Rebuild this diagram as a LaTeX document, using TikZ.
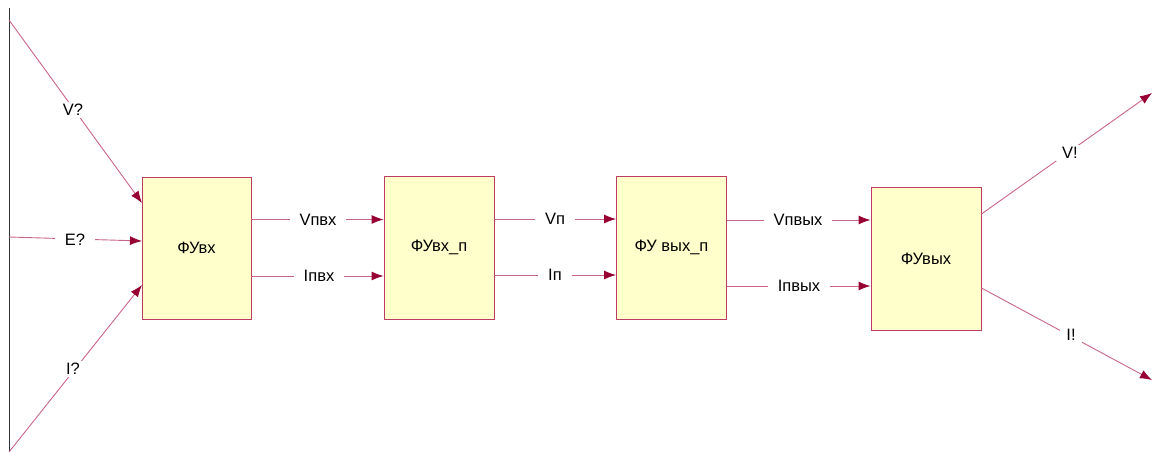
\documentclass[tikz,border=0pt]{standalone}
\usepackage{fontspec}
\setmainfont{Liberation Sans}
\usetikzlibrary{arrows.meta}
\definecolor{linec}{RGB}{200,100,140}
\definecolor{arrc}{RGB}{150,0,50}
\definecolor{boxfill}{RGB}{255,255,204}
\definecolor{boxline}{RGB}{190,60,100}
\tikzset{
  blk/.style={draw=boxline, fill=boxfill, line width=0.9pt, inner sep=0pt, font=\fontsize{16.5}{19}\selectfont},
  conn/.style={draw=linec, line width=0.9pt, -{Latex[length=12pt,width=9pt,color=arrc]}},
  lbl/.style={fill=white, inner xsep=10pt, inner ysep=2pt, font=\fontsize{16.5}{19}\selectfont}
}
\begin{document}
\begin{tikzpicture}[x=1pt,y=-1pt]
\useasboundingbox (0,0) rectangle (1152,452);
% boxes
\node[blk, minimum width=109pt, minimum height=142pt] (b1) at (196.5,248) {ФУвх};
\node[blk, minimum width=110pt, minimum height=143pt] (b2) at (439,247.5) {ФУвх\_п};
\node[blk, minimum width=110pt, minimum height=143pt] (b3) at (671.5,247.5) {ФУ вых\_п};
\node[blk, minimum width=110pt, minimum height=143pt] (b4) at (926,258.5) {ФУвых};
% left boundary
\coordinate (lt) at (9,8);
\coordinate (lb) at (9,452);
\draw[black!80, line width=0.9pt] (lt) -- (lb);
\coordinate (sV) at (9,20);
\coordinate (sE) at (9,237);
\coordinate (sI) at (9,452);
\coordinate (eV) at (142,203);
\coordinate (eE) at (142,241);
\coordinate (eI) at (142,285);
\draw[conn] (sV) -- (eV);
\draw[conn] (sE) -- (eE);
\draw[conn] (sI) -- (eI);
\node[lbl, inner xsep=4pt] (lV) at (73,110) {V?};
\node[lbl, inner xsep=10pt] (lE) at (75,240) {E?};
\node[lbl, inner xsep=4pt] (lI) at (73,369) {I?};
% b1 -> b2
\draw[conn] (b1.east |- 0,219.5) -- (b2.west |- 0,219.5);
\draw[conn] (b1.east |- 0,276) -- (b2.west |- 0,276);
\node[lbl] (l1) at (318,219.5) {Vпвх};
\node[lbl] (l2) at (319,276) {Iпвх};
% b2 -> b3
\draw[conn] (b2.east |- 0,219) -- (b3.west |- 0,219);
\draw[conn] (b2.east |- 0,275) -- (b3.west |- 0,275);
\node[lbl] (l3) at (555,219) {Vп};
\node[lbl] (l4) at (555,275) {Iп};
% b3 -> b4
\draw[conn] (b3.east |- 0,220) -- (b4.west |- 0,220);
\draw[conn] (b3.east |- 0,286) -- (b4.west |- 0,286);
\node[lbl] (l5) at (798,220) {Vпвых};
\node[lbl] (l6) at (799,286) {Iпвых};
% outputs
\coordinate (oV) at (1152,93);
\coordinate (oI) at (1152,380);
\draw[conn] (b4.east |- 0,214) -- (oV);
\draw[conn] (b4.east |- 0,288) -- (oI);
\node[lbl, inner xsep=6pt] (l7) at (1070,153) {V!};
\node[lbl, inner xsep=6pt] (l8) at (1071,335) {I!};
\end{tikzpicture}
\end{document}
